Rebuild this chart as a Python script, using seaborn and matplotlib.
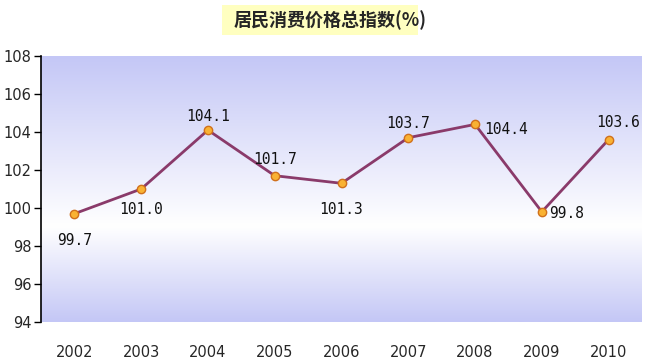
import numpy as np
import pandas as pd
import matplotlib
matplotlib.use("Agg")
import matplotlib.pyplot as plt
import seaborn as sns
from matplotlib.colors import LinearSegmentedColormap
from matplotlib.patches import Rectangle

years = ["2002", "2003", "2004", "2005", "2006", "2007", "2008", "2009", "2010"]
cpi = [99.7, 101.0, 104.1, 101.7, 101.3, 103.7, 104.4, 99.8, 103.6]
yticks = [94, 96, 98, 100, 102, 104, 106, 108]
title = "居民消费价格总指数(%)"

sns.set_theme(style="white")
plt.rcParams['font.family'] = ['Noto Sans CJK SC', 'DejaVu Sans']

df = pd.DataFrame({"year": years, "cpi": cpi})
df["pos"] = range(len(years))

fig = plt.figure(figsize=(6.48, 3.62), dpi=100)
ax = fig.add_axes([41/648, 40/362, 601/648, 266/362])

# background gradient
cmap = LinearSegmentedColormap.from_list("bg", [(0, "#c4c7f6"), (0.64, "#ffffff"), (1, "#c4c7f6")])
grad = np.linspace(0, 1, 256).reshape(-1, 1)
ax.imshow(grad, cmap=cmap, aspect="auto", extent=[0, 1, 0, 1], transform=ax.transAxes, zorder=0)

sns.lineplot(data=df, x="pos", y="cpi", ax=ax, color="#8a3a6a", linewidth=2, marker="o",
             markersize=6, markerfacecolor="#f9b233", markeredgecolor="#d0701c", markeredgewidth=1, zorder=3)

ax.set_xlim(-0.5, len(years) - 0.5)
ax.set_ylim(94, 108)
ax.set_yticks(yticks)
ax.set_yticklabels([str(t) for t in yticks], fontsize=10.5, family=['DejaVu Sans'])
ax.set_xticks(df["pos"])
ax.set_xticklabels(years, fontsize=10.5, family=['DejaVu Sans'])
ax.tick_params(axis="y", left=True, length=5, width=1, color="black", pad=2)
ax.tick_params(axis="x", bottom=False, pad=10.5)
ax.set_xlabel("")
ax.set_ylabel("")
for s in ["top", "right", "bottom"]:
    ax.spines[s].set_visible(False)
ax.spines["left"].set_color("black")
ax.spines["left"].set_linewidth(1.2)

# data labels (offsets in points)
offsets = [(0, -19), (0, -14.5), (0, 9.5), (0, 12), (0, -19), (0, 10), (22, -3.6), (18, -1.5), (7, 12)]
for i, (v, off) in enumerate(zip(cpi, offsets)):
    ax.annotate(f"{v:.1f}", (i, v), xytext=off, textcoords="offset points",
                ha="center", va="center", fontsize=10.5, family=['DejaVu Sans Mono'], color="#111111", zorder=4)

fig.patches.append(Rectangle((222/648, 1 - 35/362), 196/648, 30/362, transform=fig.transFigure,
                             facecolor="#ffffc0", edgecolor="none", zorder=0))
fig.text(330/648, 1 - 20/362, title, ha="center", va="center", fontsize=13, fontweight="bold", zorder=2)

fig.savefig("out.png", dpi=100)
